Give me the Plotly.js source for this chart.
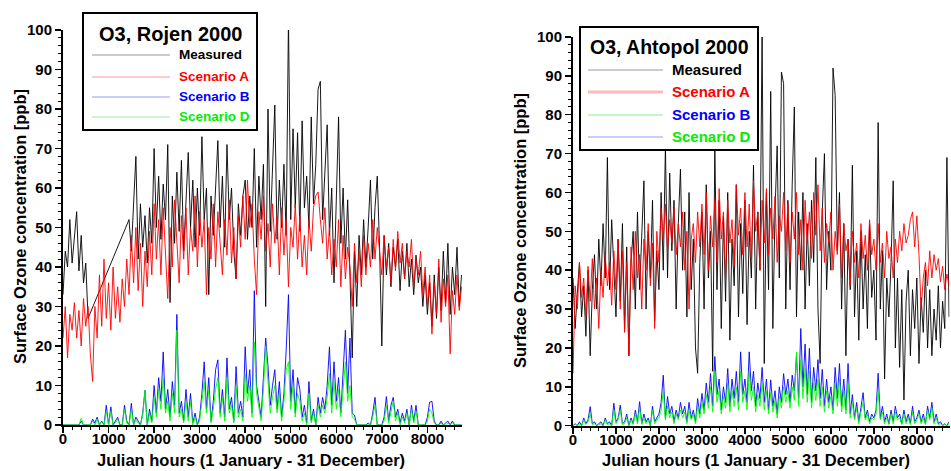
<!DOCTYPE html>
<html>
<head>
<meta charset="utf-8">
<script src="https://cdn.plot.ly/plotly-3.0.1.min.js"></script>
<style>html,body{margin:0;padding:0;background:#fff;}#chart{width:951px;height:471px;}</style>
</head>
<body>
<div id="chart"></div>
<script>
// ---------- DATA (one value every 50 hours) ----------
const STEP_HOURS = 50;
const X_TICKS = [0, 1000, 2000, 3000, 4000, 5000, 6000, 7000, 8000];
const Y_TICKS = [0, 10, 20, 30, 40, 50, 60, 70, 80, 90, 100];
const SERIES_NAMES = ['Measured', 'Scenario A', 'Scenario B', 'Scenario D'];

// Rojen 2000
const rojenMeasured = [
  33,44,40,52,41,47,54,39,48,36,41,27,null,null,null,null,null,null,null,null,
  null,null,null,null,null,null,null,null,null,52,44,55,68,42,56,45,53,41,55,46,
  70,50,63,47,61,52,71,31,58,46,64,49,67,44,57,69,50,62,45,60,
  48,73,52,60,33,58,48,62,72,50,63,45,71,52,60,44,37,56,48,58,
  62,47,58,50,70,45,63,52,66,30,80,49,65,81,47,62,50,66,48,103,
  52,75,55,74,49,77,55,63,50,78,56,66,85,87,52,63,76,48,60,36,
  58,78,46,60,42,57,38,17,44,30,48,38,52,40,50,62,42,55,63,45,
  20,48,38,46,35,45,40,47,34,44,37,46,35,42,33,43,36,40,30,38,
  28,36,25,38,27,40,29,44,31,46,28,40,33,45,30,38
];
const rojenA = [
  22,30,17,28,24,31,22,29,20,32,25,30,18,11,30,22,38,25,42,27,
  36,24,40,27,35,26,37,30,42,33,48,36,50,34,46,30,44,35,49,38,
  56,42,52,38,55,44,32,50,40,57,46,36,53,42,55,38,50,44,58,40,
  54,45,52,33,50,42,56,40,54,46,38,52,43,57,41,50,37,53,45,58,
  47,62,50,56,42,33,54,47,58,44,51,40,56,46,53,38,55,43,52,35,
  50,45,56,42,53,40,48,38,52,44,55,58,59,52,46,55,42,50,38,47,
  40,52,35,48,37,45,40,30,46,36,44,35,48,38,46,40,52,42,50,44,
  38,48,40,45,36,47,39,49,41,46,37,44,40,47,35,42,38,44,33,40,
  30,38,23,36,28,42,26,37,30,38,18,34,28,38,29,35
];
const rojenB = [
  0,0,0,0,0,0,0,0,1,0,0,0,0,1.5,0.5,2,0,1,0,5,
  0,4.6,0,1,2,0,0,5,1,0,5.5,0,2,1,0,3,8.8,0,4,1,
  10,3,12,6,18.5,4,9,2,11,5,28,3,6,1,9,2,8,0.5,3,0,
  2,8,16,4,12,1,6,14,16.5,3,9,2,17,4,7,1,14.8,3,6,2,
  19.8,8,14,3,34,10,6,2,12,22,15,5,10,14,4,11,2,8,19,33,
  6,14,3,12,9,2,5,0.5,11,1,4,0,7,3,7,4,10,19.8,5,16,
  6,12,3,14,24,8,22,3,2.5,0,0,0,0,0,0.5,0,3,7,0,0,
  0,2,7.2,1,5,7,2,4,0.5,3,1,4,0,5,1,5,0,0,0,0,
  2,5.8,6,1,0,0,1,0,0.5,1,0,1,0,0,0,0
];
const rojenD = [
  0,0,0,0,0,0,0,0,1.7,0,0,0,0,1,0,1.5,0,0.8,0,3.5,
  0,3.5,0,0.5,1.5,0,0,4,0.5,0,4,0,1.5,0.5,0,2.5,8.8,0,3,0.5,
  7,2,9,4,12,3,6,1,8,3,24,2,4,0.5,6,1,6,0,2,0,
  1,6,11,3,9,0.5,4,9,12,2,7,1,12,3,5,0.5,10,2,4,1,
  13,6,10,2,21,8,4,1,9,20,11,3,7,10,3,8,1,6,14,16,
  4,10,2,8,6,1,3,0,8,0.5,3,0,5,2,5,3,7,13,3,11,
  4,9,2,10,16,6,10,2,1.5,0,0,0,0,0,0,0,2,5,0,0,
  0,1,5,0.5,3,6,1,3,0,2,0.5,3,0,4,0.5,3.5,0,0,0,0,
  1,4,3,0.5,0,0,0.5,0,0,0.5,0,0.5,0,0,0,0
];

// Ahtopol 2000
const ahtopolMeasured = [
  38,25,34,42,28,36,23,40,18,35,44,30,48,36,52,38,69,35,53,42,
  28,48,32,52,25,46,18,42,50,30,55,35,48,63,30,50,38,58,27,45,
  35,60,40,72,38,65,45,58,30,52,66,40,55,28,60,35,48,20,13.5,42,
  55,30,62,38,50,14,71,35,58,25,54,32,60,22,48,36,62,28,52,34,
  58,26,50,38,67,30,55,40,102,16,60,35,86,25,55,72,38,91,88,30,
  58,35,62,82,28,55,40,60,30,52,36,58,42,69,30,16,55,70,35,50,
  40,92,85,45,60,30,52,18,48,35,67,28,45,22,50,30,44,25,52,33,
  40,22,78,30,45,12,38,28,42,63,20,38,15,35,6.6,32,40,18,35,25,
  38,16,33,24,40,20,35,18,30,22,36,20,32,25,69,28
];
const ahtopolA = [
  13.5,36,30,42,33,38,28,41,32,43,30,38,25,40,33,44,36,42,31,45,
  35,48,30,45,24,42,18,46,35,50,38,44,30,48,40,52,36,47,25,50,
  42,56,48,57,45,53,47,56,44,52,46,55,40,50,30,48,52,42,55,46,
  57,44,60,40,54,46,58,42,61,48,55,38,58,47,53,41,62,49,56,44,
  60,46,57,42,63,50,55,40,58,47,61,44,56,48,59,42,54,50,60,45,
  57,42,55,48,60,44,53,40,58,47,55,43,60,49,62,45,56,42,52,47,
  55,40,50,44,57,38,52,45,48,36,50,42,47,38,52,43,49,40,53,44,
  48,40,52,42,47,38,50,43,46,38,48,42,50,45,52,47,49,53,55,46,
  54,44,30,38,42,36,45,38,44,40,43,37,41,35,39,36
];
const ahtopolB = [
  0,0.5,0,1,0,2,0.5,1.5,4.9,0.5,1,0,0.5,1,0,2,0.5,1,0,5.8,
  1,2,5.3,0.5,1,3,0,2,0.5,4,1,6.2,0.5,3,1,2,0,5,1,2,
  3,6,13,2,7.5,3,5,1,4,2,6,3,5,1,6,2,4,1,7,3,
  8.3,4,11,6,13.4,5,17.8,8,12,4,10,6,14.7,5,12,7,14,6,19,8,
  12,6,19,9,14,5,11,7,15,6,12,4,11.8,5,9,3,10,6,13.4,8,
  12,6,13,9,18,7,25,10,21,8,19.9,6,15,9,17,7,14.5,5,12,6,
  10,4,15,7,16,5,12,4,16,3,8,2,6,1,5,8.5,2,4,1,3,
  2,4,13.5,2,5,1,3,0.5,4,1,5,2,3,0.5,4,1,3,0.5,5,1,
  2,4,1,3,0.5,5,2,6,1,3,0.5,1,0,0.5,0,1
];
const ahtopolD = [
  0,0.3,0,0.5,0,1.5,0.3,1,3,0.3,0.5,0,0.3,0.5,0,1.5,0.3,0.5,0,4,
  0.5,1.5,4,0.3,0.5,2,0,1.5,0.3,3,0.5,4.5,0.3,2,0.5,1.5,0,4,0.5,1.5,
  2,4,9,1.5,5,2,3.5,0.5,3,1.5,4,2,3.5,0.5,4,1.5,3,0.5,5,2,
  6,3,8,4.5,10,3.5,14,6,9,3,7.5,4.5,11,3.5,9,5,10,4,14,6,
  9,4,14,6.5,10,3.5,8,5,11,4,9,3,8.5,3.5,6.5,2,7.5,4.5,10,6,
  9,4.5,10,6.5,19,5,17,7,15,6,14,4.5,11,6.5,12,5,10,3.5,9,4.5,
  7.5,3,11,5,12,3.5,9,3,11,2,6,1.5,4.5,0.5,3.5,6,1.5,3,0.5,2,
  1.5,3,9,1.5,3.5,0.5,2,0.3,3,0.5,3.5,1.5,2,0.3,3,0.5,2,0.3,3.5,0.5,
  1.5,3,0.5,2,0.3,4,1.5,4.5,0.5,2,0.3,0.5,0,0.3,0,0.5
];

// ---------- CHART ----------
const FONT = 'Liberation Sans, Arial, Helvetica, sans-serif';
const W = 951, H = 471;
const px = v => v / W;
const py = v => 1 - v / H;
const hours = arr => arr.map((_, i) => i * STEP_HOURS);
const bold = s => '<b>' + s + '</b>';

const COLORS = ['#000000', '#ff0000', '#0000ff', '#00ff00'];
const TEXT_COLORS = ['#000000', '#ff0000', '#0000ff', '#00ee00'];

function mk(y, xa, ya, ci, name) {
  return {
    type: 'scatter', mode: 'lines', x: hours(y), y: y, xaxis: xa, yaxis: ya,
    name: name, connectgaps: true, hoverinfo: 'skip',
    line: {color: COLORS[ci], width: 0.9}
  };
}

const traces = [
  mk(rojenMeasured, 'x', 'y', 0, SERIES_NAMES[0]),
  mk(rojenA, 'x', 'y', 1, SERIES_NAMES[1]),
  mk(rojenB, 'x', 'y', 2, SERIES_NAMES[2]),
  mk(rojenD, 'x', 'y', 3, SERIES_NAMES[3]),
  mk(ahtopolMeasured, 'x2', 'y2', 0, SERIES_NAMES[0]),
  mk(ahtopolA, 'x2', 'y2', 1, SERIES_NAMES[1]),
  mk(ahtopolB, 'x2', 'y2', 2, SERIES_NAMES[2]),
  mk(ahtopolD, 'x2', 'y2', 3, SERIES_NAMES[3])
];

const tickFont = {family: FONT, size: 15, color: '#000'};

function xAxis(domain, anchor) {
  return {
    domain: domain, anchor: anchor, range: [0, 8760],
    tickmode: 'array', tickvals: X_TICKS, ticktext: X_TICKS.map(v => bold(v)),
    ticks: 'outside', ticklen: 6, tickwidth: 1.5, tickcolor: '#000', ticklabelstandoff: -7,
    showline: true, linewidth: 2, linecolor: '#000', showgrid: false, zeroline: false,
    minor: {tickmode: 'linear', tick0: 0, dtick: 200, ticks: 'outside', ticklen: 3, tickwidth: 1, tickcolor: '#000', showgrid: false},
    tickfont: tickFont, fixedrange: true
  };
}
function yAxis(domain, anchor) {
  return {
    domain: domain, anchor: anchor, range: [0, 100],
    tickmode: 'array', tickvals: Y_TICKS, ticktext: Y_TICKS.map(v => bold(v)),
    ticks: 'outside', ticklen: 6, tickwidth: 1.5, tickcolor: '#000',
    showline: true, linewidth: 2, linecolor: '#000', showgrid: false, zeroline: false,
    minor: {tickmode: 'linear', tick0: 0, dtick: 2, ticks: 'outside', ticklen: 3, tickwidth: 1, tickcolor: '#000', showgrid: false},
    tickfont: tickFont, fixedrange: true
  };
}

const shapes = [];
const annotations = [];

function legendBox(box, title, titleSize, titleY, entries, lineX0, lineX1, textX, textSize, lineColors, lineWidths) {
  shapes.push({type: 'rect', xref: 'paper', yref: 'paper', layer: 'above',
    x0: px(box[0]), x1: px(box[2]), y0: py(box[3]), y1: py(box[1]),
    fillcolor: '#ffffff', line: {color: '#000', width: 2}});
  annotations.push({xref: 'paper', yref: 'paper', x: px((box[0] + box[2]) / 2), y: py(titleY),
    xanchor: 'center', yanchor: 'middle', showarrow: false, text: bold(title),
    font: {family: FONT, size: titleSize, color: '#000'}});
  entries.forEach((ey, i) => {
    shapes.push({type: 'line', xref: 'paper', yref: 'paper', layer: 'above',
      x0: px(lineX0), x1: px(lineX1), y0: py(ey), y1: py(ey),
      line: {color: lineColors[i], width: lineWidths[i]}});
    annotations.push({xref: 'paper', yref: 'paper', x: px(textX), y: py(ey),
      xanchor: 'left', yanchor: 'middle', showarrow: false, text: bold(SERIES_NAMES[i]),
      font: {family: FONT, size: textSize, color: TEXT_COLORS[i]}});
  });
}

legendBox([83, 13, 257, 130], 'O3, Rojen 2000', 20, 34, [55, 77, 97, 117], 92, 170, 177, 13.5,
  ['#999999', '#ff9999', '#9999ff', '#99ee99'], [1, 1, 1, 1]);
legendBox([580, 27, 758, 150], 'O3, Ahtopol 2000', 19.5, 47, [70, 92, 115, 137], 588, 663, 670, 15,
  ['#999999', '#ffbbbb', '#88ee88', '#9999ff'], [1, 3, 1, 1]);

const titleFont = {family: FONT, size: 16.5, color: '#000'};
const XT = bold('Julian hours (1 January - 31 December)');
const YT = bold('Surface Ozone concentration [ppb]');
annotations.push({xref: 'paper', yref: 'paper', x: px(251), y: py(460), xanchor: 'center', yanchor: 'middle', showarrow: false, text: XT, font: titleFont});
annotations.push({xref: 'paper', yref: 'paper', x: px(756), y: py(460), xanchor: 'center', yanchor: 'middle', showarrow: false, text: XT, font: titleFont});
annotations.push({xref: 'paper', yref: 'paper', x: px(20), y: py(227), xanchor: 'center', yanchor: 'middle', textangle: -90, showarrow: false, text: YT, font: titleFont});
annotations.push({xref: 'paper', yref: 'paper', x: px(520), y: py(231), xanchor: 'center', yanchor: 'middle', textangle: -90, showarrow: false, text: YT, font: titleFont});

const layout = {
  width: W, height: H, margin: {l: 0, r: 0, t: 0, b: 0, pad: 0},
  paper_bgcolor: '#ffffff', plot_bgcolor: '#ffffff', showlegend: false,
  font: {family: FONT, color: '#000'},
  xaxis: xAxis([px(63), px(462)], 'y'),
  yaxis: yAxis([py(425), py(30)], 'x'),
  xaxis2: xAxis([px(573), px(949.5)], 'y2'),
  yaxis2: yAxis([py(425.7), py(37)], 'x2'),
  shapes: shapes, annotations: annotations
};

Plotly.newPlot('chart', traces, layout, {staticPlot: true, displayModeBar: false});
</script>
</body>
</html>
